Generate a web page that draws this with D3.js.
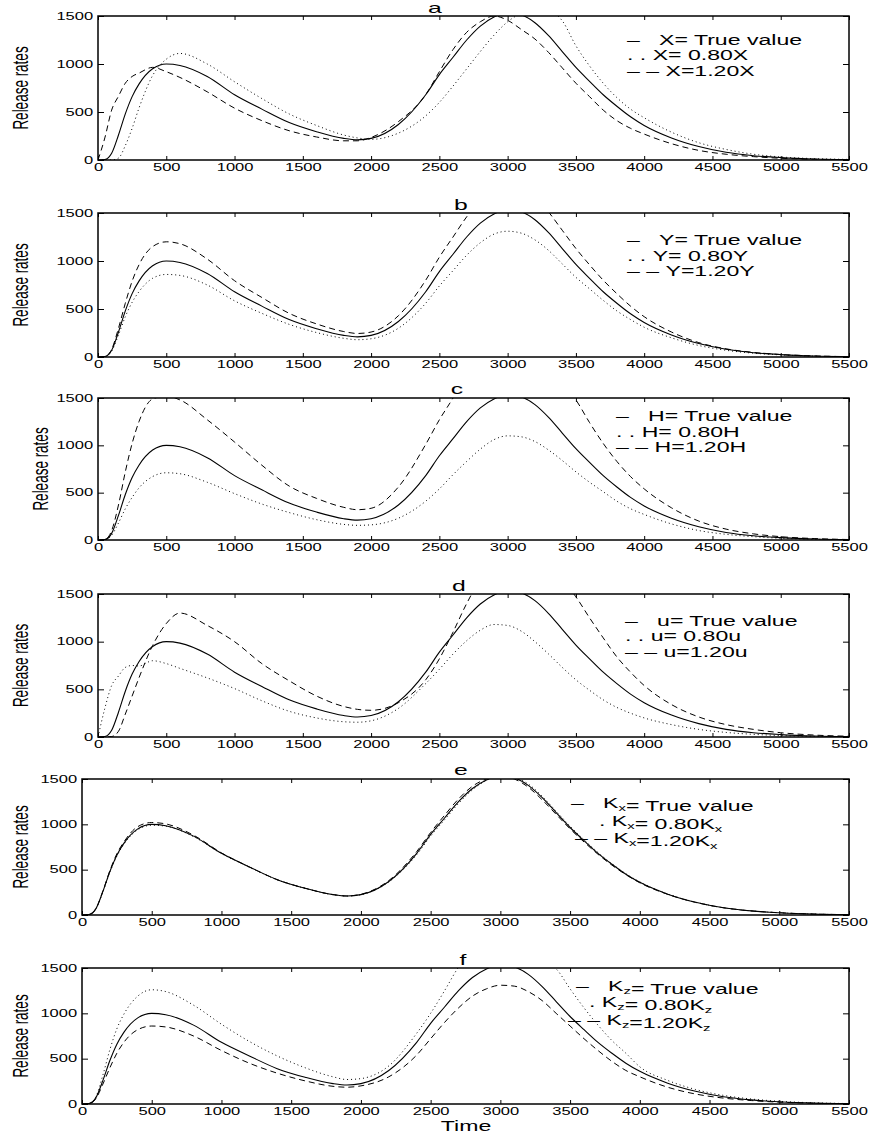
<!DOCTYPE html>
<html>
<head>
<meta charset="utf-8">
<script src="https://cdn.jsdelivr.net/npm/d3@7"></script>
<style>
  body { margin: 0; background: #fff; }
  text { font-family: "Liberation Sans", Arial, sans-serif; fill: #000; }
</style>
</head>
<body>
<svg id="chart"></svg>
<script>
// time grid shared by every curve
const time = [0,50,100,150,200,250,300,400,500,600,800,1000,1200,1400,1600,1800,1900,2000,2200,2400,2500,2600,2700,2800,2900,3000,3100,3200,3300,3400,3500,3600,3700,3800,3900,4000,4200,4400,4600,4800,5000,5250,5500];

// true value, same in every panel
const trueRate = [0,5,70,260,480,660,790,950,1000,985,870,680,530,390,295,225,210,225,370,680,890,1070,1250,1395,1490,1535,1512,1430,1295,1130,965,820,680,560,450,360,230,140,80,45,25,10,4];

const aLow  = [0,0,0,20,150,330,540,880,1050,1110,1000,815,640,480,360,260,230,215,280,460,600,770,950,1130,1300,1440,1530,1580,1560,1450,1190,980,800,650,530,440,290,180,110,60,32,14,6];
const aHigh = [0,230,520,665,800,870,905,965,920,860,710,540,410,305,240,200,200,235,400,680,920,1150,1330,1440,1500,1455,1360,1260,1120,960,800,660,520,410,330,270,170,100,60,35,18,8,3];

const bLow  = [0,4,60,230,420,570,680,820,860,850,750,585,455,340,255,195,180,190,300,560,740,900,1060,1190,1280,1310,1290,1220,1110,970,830,710,590,480,390,310,200,120,70,40,22,9,3];
const bHigh = [0,5,80,300,560,790,960,1150,1200,1180,1020,795,620,455,345,265,245,260,430,800,1040,1250,1460,1630,1750,1800,1770,1670,1510,1320,1130,960,800,660,530,420,260,150,85,48,26,11,4];

const cLow  = [0,3,50,180,330,450,550,670,710,700,610,490,380,290,215,165,155,160,230,410,540,690,830,960,1060,1100,1090,1040,950,840,720,610,510,410,330,270,170,100,60,35,18,8,3];
const cHigh = [0,5,100,370,720,1020,1250,1490,1520,1480,1270,1035,790,570,440,345,320,335,560,1010,1270,1500,1760,1980,2130,2200,2160,2030,1850,1660,1480,1240,1020,830,670,540,340,200,115,65,35,15,5];

const dLow  = [0,300,540,640,730,750,745,800,770,720,620,508,380,270,200,160,155,170,300,560,710,870,1010,1120,1180,1170,1110,1000,870,730,600,490,390,310,250,200,130,80,48,28,15,7,3];
const dHigh = [0,0,5,60,240,430,620,960,1190,1300,1170,1000,770,590,430,320,290,280,360,600,820,1100,1400,1650,1800,1880,1890,1850,1780,1650,1470,1250,1040,840,680,540,340,210,130,80,45,20,8];

const eLow  = [0,5,68,255,472,650,780,940,990,980,865,678,528,388,294,224,209,224,365,665,870,1050,1230,1380,1485,1540,1520,1445,1310,1145,980,830,690,565,455,365,232,141,80,45,25,10,4];
const eHigh = [0,5,70,265,490,675,805,975,1020,1005,880,685,530,390,295,225,210,228,380,700,910,1100,1280,1420,1500,1530,1500,1410,1270,1110,950,805,670,550,445,355,228,139,80,45,25,10,4];

const fLow  = [0,6,80,320,600,830,990,1190,1260,1240,1090,880,690,530,400,300,270,280,420,780,1000,1250,1510,1700,1830,1860,1800,1700,1570,1490,1270,1060,870,700,560,410,260,160,95,55,30,13,5];
const fHigh = [0,4,60,220,400,560,680,820,860,850,750,590,450,340,255,195,185,200,300,540,720,900,1060,1190,1270,1310,1300,1240,1140,1000,860,720,590,470,370,300,185,110,65,38,20,9,3];

const xTicks = [0,500,1000,1500,2000,2500,3000,3500,4000,4500,5000,5500];
const yTicks = [0,500,1000,1500];

const panels = [
  { id: "a", low: aLow, high: aHigh, left: 98, top: 16, bottom: 160, tx: 435, ty: 13, lx: 22,
    legend: ["X= True value", "X= 0.80X", "X=1.20X"], pre: ["–   ", ". . ", "– – "], legX: [627,627,627], legY: [45,60,76] },
  { id: "b", low: bLow, high: bHigh, left: 98, top: 213, bottom: 357, tx: 461, ty: 210, lx: 22,
    legend: ["Y= True value", "Y= 0.80Y", "Y=1.20Y"], pre: ["–   ", ". . ", "– – "], legX: [627,627,627], legY: [245,261,276] },
  { id: "c", low: cLow, high: cHigh, left: 98, top: 398, bottom: 540, tx: 457, ty: 394, lx: 42,
    legend: ["H= True value", "H= 0.80H", "H=1.20H"], pre: ["–   ", ". . ", "– – "], legX: [616,616,616], legY: [421,437,452] },
  { id: "d", low: dLow, high: dHigh, left: 98, top: 594, bottom: 737, tx: 459, ty: 591, lx: 22,
    legend: ["u= True value", "u= 0.80u", "u=1.20u"], pre: ["–   ", ". . ", "– – "], legX: [625,625,625], legY: [626,641,657] },
  { id: "e", low: eLow, high: eHigh, left: 82, top: 779, bottom: 915, tx: 461, ty: 775, lx: 22,
    legend: ["K_x= True value", "K_x= 0.80K_x", "K_x=1.20K_x"], pre: ["–   ", ". ", "– – "], legX: [571,599,575], legY: [808,826,843] },
  { id: "f", low: fLow, high: fHigh, left: 82, top: 968, bottom: 1104, tx: 463, ty: 965, lx: 22,
    legend: ["K_z= True value", "K_z= 0.80K_z", "K_z=1.20K_z"], pre: ["–   ", ". ", "– – "], legX: [576,589,568], legY: [991,1007,1025] }
];

const width = 871, height = 1135, right = 849;
const SX = 1.65; // horizontal stretch of the exported text

const svg = d3.select("#chart").attr("width", width).attr("height", height);
svg.append("rect").attr("width", width).attr("height", height).attr("fill", "#fff");

function stretchText(g, x, y, str, size, anchor) {
  return g.append("text")
    .attr("transform", "translate(" + x + "," + y + ") scale(" + SX + ",1)")
    .attr("text-anchor", anchor || "start")
    .style("font-size", size + "px")
    .style("white-space", "pre")
    .text(str);
}

// "K_x= 0.80K_x" -> K with subscript x
function richText(t, str) {
  const parts = str.split(/_(\w)/);
  parts.forEach(function(p, i) {
    if (!p) return;
    if (i % 2 === 1) {
      t.append("tspan").attr("dy", 3).style("font-size", "9px").text(p);
      t.append("tspan").attr("dy", -3).text("");
    } else {
      t.append("tspan").text(p);
    }
  });
}

panels.forEach(function(p) {
  const x = d3.scaleLinear().domain([0, 5500]).range([p.left, right]);
  const y = d3.scaleLinear().domain([0, 1500]).range([p.bottom, p.top]);
  const g = svg.append("g");

  g.append("clipPath").attr("id", "clip-" + p.id)
    .append("rect").attr("x", p.left).attr("y", p.top)
    .attr("width", right - p.left).attr("height", p.bottom - p.top);

  const line = d3.line()
    .x(function(d, i) { return x(time[i]); })
    .y(function(d) { return y(d); })
    .curve(d3.curveMonotoneX);

  const curves = g.append("g").attr("clip-path", "url(#clip-" + p.id + ")");
  curves.append("path").attr("d", line(p.low)).attr("fill", "none")
    .attr("stroke", "#000").attr("stroke-width", 1).attr("stroke-dasharray", "1,3");
  curves.append("path").attr("d", line(p.high)).attr("fill", "none")
    .attr("stroke", "#000").attr("stroke-width", 1).attr("stroke-dasharray", "6,4");
  curves.append("path").attr("d", line(trueRate)).attr("fill", "none")
    .attr("stroke", "#000").attr("stroke-width", 1.1);

  // axes, ticks pointing inwards on all four sides
  const bottomAx = g.append("g").attr("transform", "translate(0," + p.bottom + ")")
    .call(d3.axisBottom(x).tickValues(xTicks).tickSize(-4).tickPadding(4).tickFormat(d3.format("d")));
  const leftAx = g.append("g").attr("transform", "translate(" + p.left + ",0)")
    .call(d3.axisLeft(y).tickValues(yTicks).tickSize(-6).tickPadding(3).tickFormat(d3.format("d")));
  g.append("g").attr("transform", "translate(0," + p.top + ")")
    .call(d3.axisTop(x).tickValues(xTicks).tickSize(-4).tickFormat(""));
  g.append("g").attr("transform", "translate(" + right + ",0)")
    .call(d3.axisRight(y).tickValues(yTicks).tickSize(-6).tickFormat(""));

  g.selectAll(".domain").remove();
  g.selectAll(".tick line").attr("stroke", "#000").attr("stroke-width", 1);
  [bottomAx, leftAx].forEach(function(ax) {
    ax.selectAll("text")
      .attr("fill", "#000")
      .style("font-family", "'Liberation Sans', Arial, sans-serif")
      .style("font-size", "10px")
      .attr("transform", "scale(" + SX + ",1)");
  });

  g.append("rect").attr("x", p.left).attr("y", p.top)
    .attr("width", right - p.left).attr("height", p.bottom - p.top)
    .attr("fill", "none").attr("stroke", "#000").attr("stroke-width", 1.5);

  // panel letter
  stretchText(g, p.tx, p.ty, p.id, 15, "middle");

  // y label
  g.append("text")
    .attr("transform", "translate(" + (p.lx + 6) + "," + ((p.top + p.bottom) / 2) + ") scale(" + SX + ",1) rotate(-90)")
    .attr("text-anchor", "middle")
    .style("font-size", "13.5px")
    .text("Release rates");

  // legend typed as text lines
  p.legend.forEach(function(s, i) {
    const t = stretchText(g, p.legX[i], p.legY[i], "", 14, "start");
    t.append("tspan").text(p.pre[i]);
    richText(t, s);
  });
});

stretchText(svg, 466, 1131, "Time", 14, "middle");
</script>
</body>
</html>
